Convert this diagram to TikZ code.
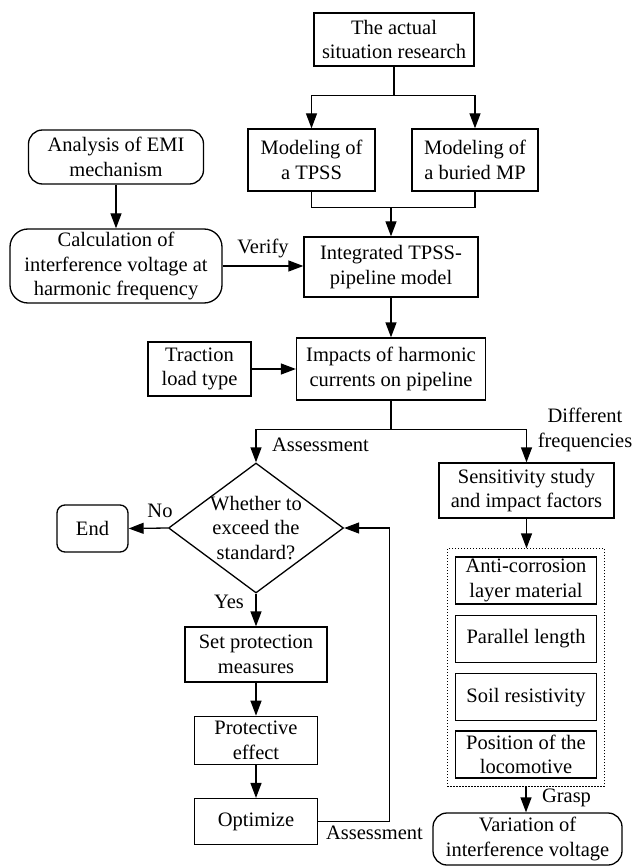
\documentclass[tikz,border=0pt]{standalone}
\usepackage{fontspec}
\setmainfont{Liberation Serif}
\usetikzlibrary{positioning,arrows.meta,fit,shapes.geometric,calc}

\begin{document}
\begin{tikzpicture}[
    x=1pt, y=-1pt,
    font=\fontsize{20.5}{24.7}\selectfont,
    box/.style={draw, line width=1.3pt, align=center, inner sep=0pt},
    rbox/.style={box, rounded corners=14pt},
    factor/.style={box, minimum width=141pt, minimum height=47pt},
    decision/.style={box, diamond, aspect=1.35, inner sep=-2pt, minimum width=175pt, minimum height=130pt},
    group/.style={draw, line width=1pt, dash pattern=on 1.2pt off 1.8pt, inner xsep=7.5pt, inner ysep=7.5pt},
    link/.style={line width=1.3pt},
    arr/.style={-{Triangle[length=15pt,width=11pt]}, line width=1.3pt},
    lbl/.style={inner sep=0pt, align=center}]
  \useasboundingbox (0,0) rectangle (632,866);
  % upper part
  \node[box, minimum width=160pt, minimum height=53pt] (actual) at (394,39.5) {The actual\\situation research};
  \node[box, minimum width=127pt, minimum height=62pt] (tpss) at (311.5,160) {Modeling of\\a TPSS};
  \node[box, minimum width=126pt, minimum height=62pt] (mp) at (475,160) {Modeling of\\a buried MP};
  \node[box, minimum width=174pt, minimum height=60pt] (integ) at (391,267) {Integrated TPSS-\\pipeline model};
  \node[rbox, minimum width=175pt, minimum height=54pt] (emi) at (116,157) {Analysis of EMI\\mechanism};
  \node[rbox, rounded corners=18pt, minimum width=212pt, minimum height=74pt] (calc) at (116,266) {Calculation of\\interference voltage at\\harmonic frequency};
  \node[box, minimum width=103pt, minimum height=54pt] (traction) at (199.5,369) {Traction\\load type};
  \node[box, minimum width=189pt, minimum height=62pt] (impact) at (391,369) {Impacts of harmonic\\currents on pipeline};
  % assessment branch
  \node[decision] (exceed) at (256,528) {Whether to\\exceed the\\standard?};
  \node[rbox, rounded corners=8pt, minimum width=71pt, minimum height=47pt] (stop) at (92.5,528.5) {End};
  \node[box, minimum width=142pt, minimum height=55pt] (setp) at (256,654.5) {Set protection\\measures};
  \node[box, minimum width=123pt, minimum height=48pt, below=33pt of setp] (effect) {Protective\\effect};
  \node[box, minimum width=123pt, minimum height=46pt, below=33pt of effect] (optim) {Optimize};
  % sensitivity branch
  \node[box, minimum width=175pt, minimum height=55pt] (sens) at (526.5,490.5) {Sensitivity study\\and impact factors};
  \node[factor] (coat) at (526,580.5) {Anti-corrosion\\layer material};
  \node[factor, below=10pt of coat] (length) {Parallel length};
  \node[factor, below=10pt of length] (soil) {Soil resistivity};
  \node[factor, below=9pt of soil] (loco) {Position of the\\locomotive};
  \node[group, fit=(coat)(loco)] (factors) {};
  \node[rbox, minimum width=189pt, minimum height=52pt] (var) at (527.5,839) {Variation of\\interference voltage};
  % labels
  \node[lbl] (verify) at (263,248) {Verify};
  \node[lbl] (assessa) at (320.5,445) {Assessment};
  \node[lbl] (freq) at (585,430) {Different\\frequencies};
  \node[lbl] (no) at (160,511) {No};
  \node[lbl] (yes) at (229,602) {Yes};
  \node[lbl] (assessb) at (374.5,833) {Assessment};
  \node[lbl] (grasp) at (566.5,798) {Grasp};
  % connectors
  \coordinate (split) at ($(actual.south)+(0,29)$);
  \draw[link] (actual.south) -- (split);
  \draw[arr] (split) -| (tpss.north);
  \draw[arr] (split) -| (mp.north);
  \coordinate (merge) at ($(integ.north)+(0,-29)$);
  \draw[link] (tpss.south) |- (merge) -| (mp.south);
  \draw[arr] (merge) -- (integ.north);
  \draw[arr] (emi) -- (calc);
  \draw[arr] (calc.east) -- (calc.east -| integ.west);
  \draw[arr] (integ) -- (impact);
  \draw[arr] (traction) -- (impact);
  \coordinate (branch) at ($(impact.south)+(0,29)$);
  \draw[link] (impact.south) -- (branch);
  \draw[arr] (branch) -| (exceed.north);
  \draw[arr] (branch) -| (sens.north);
  \draw[arr] (exceed.west) -- (stop.east);
  \draw[arr] (exceed.south) -- (setp.north);
  \draw[arr] (setp) -- (effect);
  \draw[arr] (effect) -- (optim);
  \draw[arr] (optim.east) -| ([xshift=45.5pt]exceed.east) -- (exceed.east);
  \draw[arr] (sens.south) -- (sens.south |- factors.north);
  \draw[arr] (factors.south) -- (factors.south |- var.north);
\end{tikzpicture}
\end{document}
